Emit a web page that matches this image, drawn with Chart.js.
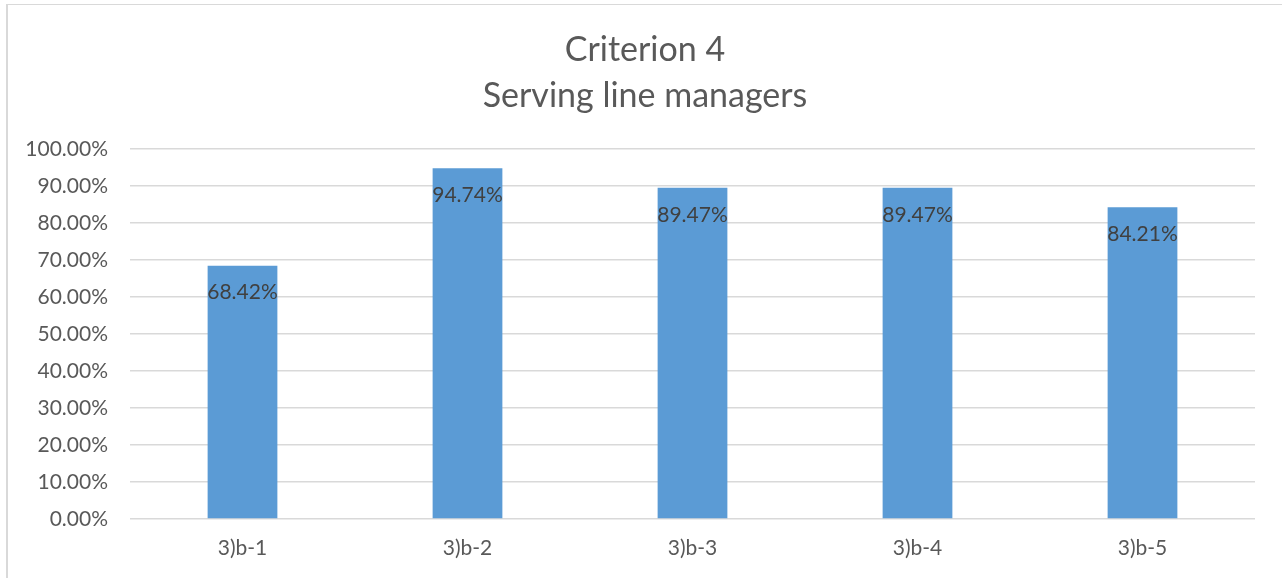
<!DOCTYPE html>
<html>
<head>
<meta charset="utf-8">
<script src="https://cdn.jsdelivr.net/npm/chart.js@4"></script>
<style>
  html, body { margin: 0; padding: 0; background: #fff; }
  #wrap { position: relative; width: 1282px; height: 578px; }
  #frame {
    position: absolute; left: 6px; top: 4px; right: 0; bottom: 0;
    border-left: 2px solid #d9d9d9; border-top: 1px solid #d9d9d9;
    pointer-events: none;
  }
</style>
</head>
<body>
<div id="wrap">
  <canvas id="chart" width="1282" height="578"></canvas>
  <div id="frame"></div>
</div>
<script>
const categories = ["3)b-1", "3)b-2", "3)b-3", "3)b-4", "3)b-5"];
const values = [68.42, 94.74, 89.47, 89.47, 84.21];
const titleLines = ["Criterion 4", "Serving line managers"];

const FONT = "Lato, 'Open Sans', sans-serif";

// labels inside the bar tops, like Excel's "inside end"
const barLabels = {
  id: "barLabels",
  afterDatasetsDraw(chart) {
    const { ctx } = chart;
    const meta = chart.getDatasetMeta(0);
    ctx.save();
    ctx.font = `21px ${FONT}`;
    ctx.fillStyle = "#404040";
    ctx.textAlign = "center";
    ctx.textBaseline = "middle";
    meta.data.forEach((bar, i) => {
      ctx.fillText(values[i].toFixed(2) + "%", bar.x, bar.y + 27);
    });
    ctx.restore();
  }
};

// excel centres the title on the whole frame, not the padded box
const titleCenter = {
  id: "titleCenter",
  afterLayout(chart) {
    if (chart.titleBlock) {
      chart.titleBlock.left = 8;
      chart.titleBlock.right = chart.width;
    }
  }
};

new Chart(document.getElementById("chart"), {
  type: "bar",
  data: {
    labels: categories,
    datasets: [{
      data: values,
      backgroundColor: "#5B9BD5",
      barPercentage: 0.31,
      categoryPercentage: 1
    }]
  },
  options: {
    responsive: false,
    animation: false,
    layout: { padding: { left: 0, right: 27, top: 0, bottom: 0 } },
    plugins: {
      legend: { display: false },
      tooltip: { enabled: false },
      title: {
        display: true,
        text: titleLines,
        color: "#595959",
        font: { family: FONT, size: 34, weight: "normal", lineHeight: 1.35 },
        padding: { top: 27, bottom: 30 }
      }
    },
    scales: {
      x: {
        afterFit(scale) { scale.height = 59; },
        grid: { display: false, drawTicks: false },
        border: { display: false },
        ticks: { color: "#595959", font: { family: FONT, size: 21 }, padding: 17 }
      },
      y: {
        min: 0,
        max: 100,
        afterFit(scale) { scale.width = 130; },
        grid: { color: "#d9d9d9", lineWidth: 1.5, drawTicks: false },
        border: { display: false },
        ticks: {
          stepSize: 10,
          padding: 22,
          color: "#595959",
          font: { family: FONT, size: 21 },
          callback: v => Number(v).toFixed(2) + "%"
        }
      }
    }
  },
  plugins: [barLabels, titleCenter]
});
</script>
</body>
</html>
